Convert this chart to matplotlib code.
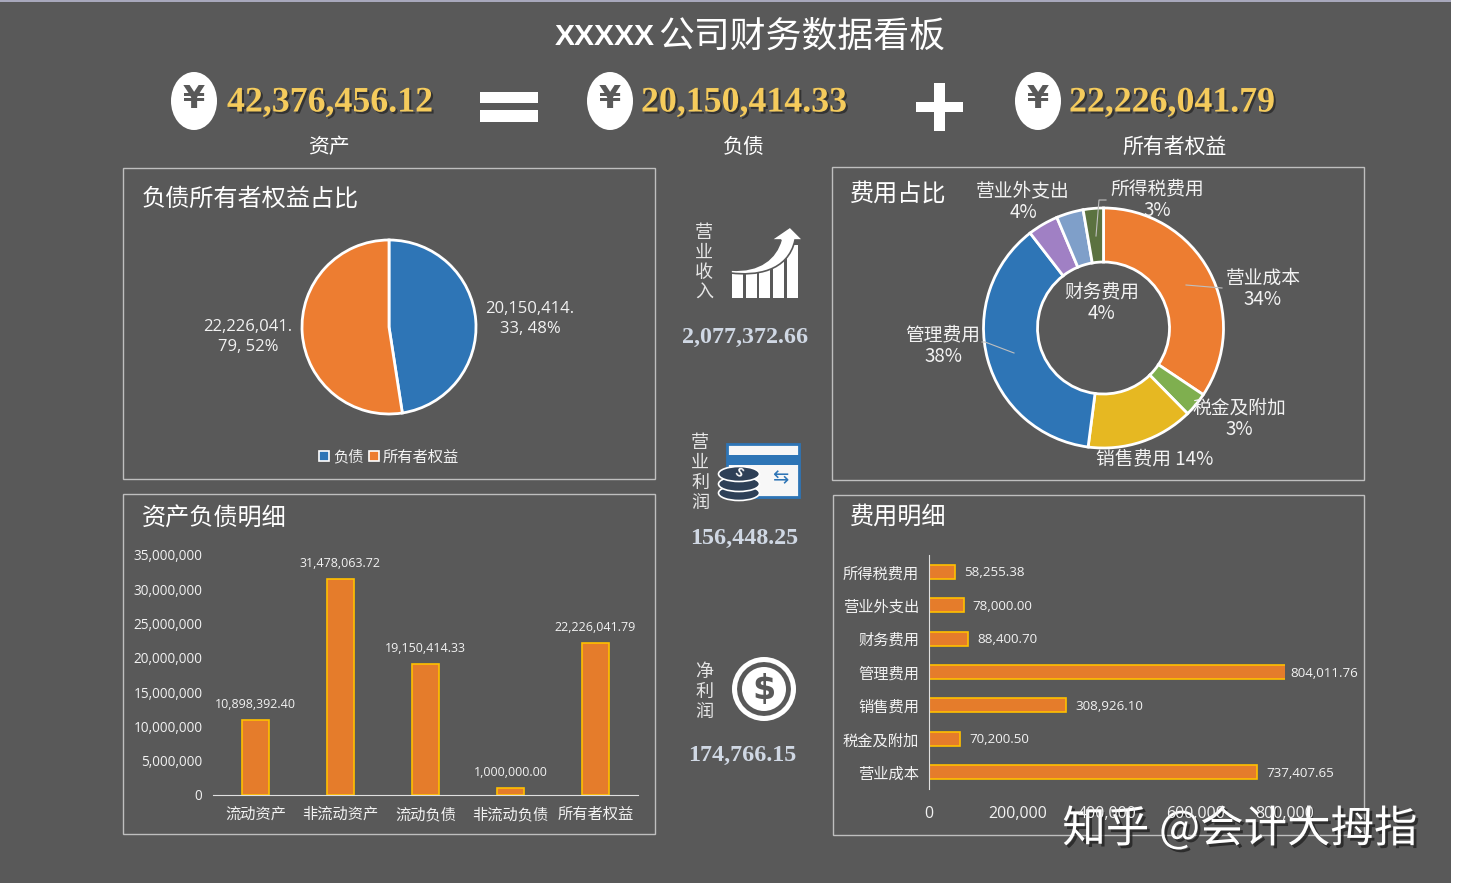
import matplotlib
matplotlib.use("Agg")
import matplotlib.pyplot as plt
import matplotlib.patheffects as pe
from matplotlib.patches import Rectangle, Ellipse, Circle, PathPatch, RegularPolygon
from matplotlib.path import Path

CJK = ['Noto Sans CJK SC', 'DejaVu Sans']
SERIF = ['Liberation Serif', 'Noto Sans CJK SC']
LATIN = ['Open Sans', 'Noto Sans CJK SC']
plt.rcParams['font.family'] = CJK

BG = '#595959'
W, H = 1457, 889
ORANGE = '#ED7D31'
BAR = '#E57C2B'
EDGE = '#FFC000'
BLUE = '#2E75B6'
TXT = '#F2F2F2'

# ---- data ----
kpi_labels = ['资产', '负债', '所有者权益']
kpi_values = ['42,376,456.12', '20,150,414.33', '22,226,041.79']
flow_labels = ['营业收入', '营业利润', '净利润']
flow_values = ['2,077,372.66', '156,448.25', '174,766.15']

share_names = ['负债', '所有者权益']
share_values = [20150414.33, 22226041.79]

cost_names = ['营业成本', '税金及附加', '销售费用', '管理费用', '财务费用', '营业外支出', '所得税费用']
cost_values = [737407.65, 70200.50, 308926.10, 804011.76, 88400.70, 78000.00, 58255.38]
cost_pct = ['34%', '3%', '14%', '38%', '4%', '4%', '3%']
cost_colors = ['#ED7D31', '#7FAF4F', '#E6B822', '#2E75B6', '#A080C4', '#7F9FC9', '#5B7240']

bs_names = ['流动资产', '非流动资产', '流动负债', '非流动负债', '所有者权益']
bs_values = [10898392.40, 31478063.72, 19150414.33, 1000000.00, 22226041.79]
bs_ticks = [0, 5000000, 10000000, 15000000, 20000000, 25000000, 30000000, 35000000]
cost_ticks = [0, 200000, 400000, 600000, 800000]

fig = plt.figure(figsize=(W / 100, H / 100), dpi=100, facecolor='white')

# full-figure pixel canvas for the dashboard furniture
bg = fig.add_axes([0, 0, 1, 1])
bg.set_xlim(0, W); bg.set_ylim(H, 0); bg.axis('off')
bg.add_patch(Rectangle((0, 0), 1451, 883, fc=BG, ec='none'))
bg.add_patch(Rectangle((0, 0), 1451, 1.5, fc='#A8A8BC', ec='none'))


def axes_px(x0, y0, x1, y1, **kw):
    return fig.add_axes([x0 / W, 1 - y1 / H, (x1 - x0) / W, (y1 - y0) / H], **kw)


def t(x, y, s, size, color=TXT, ha='center', va='center', family=CJK, weight='normal', ax=bg, **kw):
    return ax.text(x, y, s, fontsize=size, color=color, ha=ha, va=va, family=family, weight=weight, **kw)


# title
t(655, 37, 'XXXXX', 21.6, color='white', ha='right', weight='bold', family=['Liberation Sans'])
t(658, 37, '公司财务数据看板', 25.8, color='white', ha='left', weight='medium')

# KPI row
shadow = [pe.withSimplePatchShadow(offset=(1.5, -1.5), shadow_rgbFace='#2a2a2a', alpha=0.8)]
for cx, tx, val, lx, lab in zip([194, 610, 1038], [227, 641, 1069], kpi_values, [329, 744, 1175], kpi_labels):
    bg.add_patch(Ellipse((cx, 101), 46, 58, fc='white', ec='none'))
    t(cx, 100, '¥', 23, color='#595959', weight='bold', family=['DejaVu Sans'])
    t(tx, 103, val, 25.8, color='#F5CB5C', ha='left', family=SERIF, weight='bold', path_effects=shadow)
    t(lx, 147, lab, 15, color='white', weight='medium')

# equals and plus
bg.add_patch(Rectangle((480, 92), 58, 11, fc='white', ec='none'))
bg.add_patch(Rectangle((480, 110), 58, 12, fc='white', ec='none'))
bg.add_patch(Rectangle((916, 102), 47, 10, fc='white', ec='none'))
bg.add_patch(Rectangle((934, 83), 11, 48, fc='white', ec='none'))

# panels
for x0, y0, x1, y1 in [(123, 168, 655, 479), (832, 167, 1364, 480), (123, 494, 655, 834), (833, 495, 1364, 835)]:
    bg.add_patch(Rectangle((x0, y0), x1 - x0, y1 - y0, fc='none', ec='#BFBFBF', lw=1))
t(142, 199, '负债所有者权益占比', 17.4, color='white', ha='left', weight='medium')
t(850, 194, '费用占比', 17.4, color='white', ha='left', weight='medium')
t(142, 519, '资产负债明细', 17.4, color='white', ha='left', weight='medium')
t(850, 517, '费用明细', 17.4, color='white', ha='left', weight='medium')

# vertical labels and values, middle column
for lab, x, y0 in zip(flow_labels, [704, 700, 704], [233, 443, 672]):
    for i, ch in enumerate(lab):
        t(x, y0 + i * 20, ch, 13, color='#E6E6E6', weight='medium')
for val, x, y in zip(flow_values, [745, 744, 742], [337, 538, 755]):
    t(x, y, val, 17.3, color='#D0D8E4', family=SERIF, weight='bold')

# icon: rising bars with arrow
for x, top in zip([732, 746, 759, 773, 787], [272, 270, 266, 258, 245]):
    bg.add_patch(Rectangle((x, top), 11, 298 - top, fc='white', ec='none'))
bg.add_patch(PathPatch(Path([(731, 270), (760, 272), (776, 258), (781, 240), (771, 240), (790, 227),
                             (803, 240), (795, 240), (788, 272), (755, 276), (731, 273), (731, 270)],
                            [1, 4, 4, 4, 2, 2, 2, 2, 4, 4, 4, 79]),
                       fc='white', ec=BG, lw=1.2, zorder=3))

# icon: card and coins
bg.add_patch(Rectangle((727, 444), 72, 53, fc='#F7F7F7', ec='#2E75B6', lw=2))
bg.add_patch(Rectangle((727, 455), 72, 10, fc='#2E75B6', ec='none'))
for y0 in [493, 484, 474]:
    bg.add_patch(Ellipse((739, y0), 41, 15, fc='#2E4057', ec='white', lw=1.2))
t(739, 473, 'S', 9, color='white', weight='bold', rotation=-30)
t(780, 478, '⇆', 14, color='#2E75B6', family=['DejaVu Sans'])

# icon: dollar coin
bg.add_patch(Circle((764, 689), 32, fc='white', ec='none'))
bg.add_patch(RegularPolygon((764, 689), 28, radius=27, fc=BG, ec='none'))
bg.add_patch(Circle((764, 689), 22, fc='white', ec='none'))
t(764, 689, '$', 24, color='#595959', weight='bold', family=['DejaVu Sans'])

# ---- share pie ----
ax = axes_px(389 - 90, 327 - 90, 389 + 90, 327 + 90)
ax.pie(share_values, colors=[BLUE, ORANGE], startangle=90, counterclock=False, radius=1,
       wedgeprops=dict(edgecolor='white', linewidth=2))
ax.set_xlim(-90 / 87, 90 / 87); ax.set_ylim(-90 / 87, 90 / 87)
t(530, 319, '20,150,414.\n33, 48%', 12, family=LATIN, linespacing=1.27)
t(248, 337, '22,226,041.\n79, 52%', 12, family=LATIN, linespacing=1.27)
for x, c, lab, lx in zip([324, 374], [BLUE, ORANGE], share_names, [333, 383]):
    bg.add_patch(Rectangle((x - 5, 451), 10, 10, fc=c, ec='white', lw=1.2))
    t(lx, 457, lab, 11, ha='left', color=TXT)

# ---- cost donut ----
ax = axes_px(1103.5 - 125, 328 - 125, 1103.5 + 125, 328 + 125)
ax.pie(cost_values, colors=cost_colors, startangle=90, counterclock=False, radius=1,
       wedgeprops=dict(width=54 / 120, edgecolor='white', linewidth=2))
ax.set_xlim(-125 / 120, 125 / 120); ax.set_ylim(-125 / 120, 125 / 120)
over = fig.add_axes([0, 0, 1, 1], facecolor='none')
over.set_xlim(0, W); over.set_ylim(H, 0); over.axis('off')
for xs, ys in [([1186, 1222], [285, 288]), ([1014, 985, 982], [353, 342, 342]), ([1096, 1099, 1106], [236, 200, 200])]:
    over.plot(xs, ys, color='#BFBFBF', lw=0.8)
label_x = [1263, 1239, 943, 1102, 1023, 1157]
label_y = [289, 419, 346, 303, 202, 200]
label_idx = [0, 1, 3, 4, 5, 6]
for x, y, i in zip(label_x, label_y, label_idx):
    t(x, y, cost_names[i] + '\n' + cost_pct[i], 13.5, linespacing=1.05, ax=over)
t(1155, 459, cost_names[2] + ' ' + cost_pct[2], 13.5, ax=over)

# ---- balance sheet columns ----
ax = axes_px(213, 555, 638, 795, facecolor='none')
ax.bar(bs_names, bs_values, width=0.32, color=BAR, edgecolor=EDGE, linewidth=1.2)
ax.set_xlim(-0.5, 4.5); ax.set_ylim(0, 35000000)
ax.set_yticks(bs_ticks, [f'{v:,}' for v in bs_ticks])
ax.tick_params(axis='y', length=0, colors=TXT, labelsize=9.8, pad=7.5)
ax.tick_params(axis='x', length=0, colors=TXT, labelsize=11, pad=8)
for lb in ax.get_yticklabels():
    lb.set_family(LATIN)
for s in ['top', 'left', 'right']:
    ax.spines[s].set_visible(False)
ax.spines['bottom'].set_color('#E0E0E0')
for i, v in enumerate(bs_values):
    ax.annotate(f'{v:,.2f}', (i, v), xytext=(0, 6.5), textcoords='offset points', ha='center', va='bottom',
                color=TXT, fontsize=9, family=LATIN)

# ---- cost bars ----
ax = axes_px(929, 555, 1284.7, 789, facecolor='none')
ax.barh(range(len(cost_names)), cost_values, height=0.42, color=BAR, edgecolor=EDGE, linewidth=1.2)
ax.set_xlim(0, 800000); ax.set_ylim(-0.5, 6.5)
ax.set_yticks(range(len(cost_names)), cost_names)
ax.set_xticks(cost_ticks, [f'{v:,}' for v in cost_ticks])
ax.tick_params(axis='y', length=0, colors=TXT, labelsize=11, pad=7)
ax.tick_params(axis='x', length=0, colors=TXT, labelsize=11.5, pad=12)
for lb in ax.get_xticklabels():
    lb.set_family(LATIN)
for s in ['top', 'bottom', 'right']:
    ax.spines[s].set_visible(False)
ax.spines['left'].set_color('#E0E0E0')
vmax = max(cost_values)
for i, v in enumerate(cost_values):
    ax.annotate(f'{v:,.2f}', (v, i), xytext=(3 if v == vmax else 6.5, -0.8), textcoords='offset points',
                ha='left', va='center', color=TXT, fontsize=9.6, family=LATIN, annotation_clip=False)

# watermark
t(1240, 830, '知乎 @会计大拇指', 31.3, color='white', ax=over, weight='medium',
  path_effects=[pe.withSimplePatchShadow(offset=(2, -2), shadow_rgbFace='#222222', alpha=0.8)])

fig.savefig('out.png', dpi=100, facecolor='white')
